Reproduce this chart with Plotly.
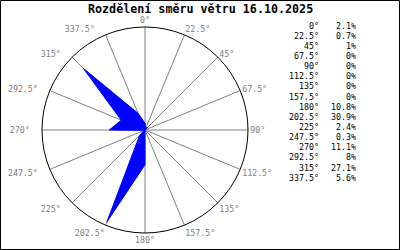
import plotly.graph_objects as go

directions = [0, 22.5, 45, 67.5, 90, 112.5, 135, 157.5, 180, 202.5, 225, 247.5, 270, 292.5, 315, 337.5]
dir_labels = ["0°", "22.5°", "45°", "67.5°", "90°", "112.5°", "135°", "157.5°",
              "180°", "202.5°", "225°", "247.5°", "270°", "292.5°", "315°", "337.5°"]
percents = [2.1, 0.7, 1, 0, 0, 0, 0, 0, 10.8, 30.9, 2.4, 0.3, 11.1, 8, 27.1, 5.6]
title_text = "Rozdělení směru větru 16.10.2025"

W, H = 400, 250
MONO = "DejaVu Sans Mono, Liberation Mono, monospace"

# left-side angle labels sit a little further out in the reference
tick_text = [lab + ("\u00a0\u00a0" if 210 < d < 360 else "") for d, lab in zip(directions, dir_labels)]

fig = go.Figure()
fig.add_trace(go.Scatterpolar(
    r=percents + [percents[0]],
    theta=directions + [directions[0]],
    mode="lines",
    fill="toself",
    fillcolor="#0000ff",
    line=dict(color="#0000ff", width=1),
    hoverinfo="skip",
))

cx, cy, R = 145, 130, 103
fig.update_layout(
    width=W, height=H,
    margin=dict(l=0, r=0, t=0, b=0),
    paper_bgcolor="white",
    plot_bgcolor="white",
    showlegend=False,
    font=dict(family=MONO, size=8.3, color="#000000"),
    polar=dict(
        domain=dict(x=[(cx - R) / W, (cx + R) / W], y=[1 - (cy + R) / H, 1 - (cy - R) / H]),
        bgcolor="white",
        angularaxis=dict(
            rotation=90, direction="clockwise",
            tickmode="array", tickvals=directions, ticktext=tick_text,
            showgrid=True, gridcolor="#808080", gridwidth=1,
            showline=True, linecolor="#000000", linewidth=1,
            ticks="", tickfont=dict(family=MONO, size=8.3, color="#808080"),
        ),
        radialaxis=dict(
            range=[0, 32], visible=True, showgrid=False, showline=False,
            showticklabels=False, ticks="",
        ),
    ),
)

# Title
fig.add_annotation(
    text="<b>" + title_text + "</b>", x=200 / W, y=1 - 9 / H,
    xref="paper", yref="paper", xanchor="center", yanchor="middle",
    showarrow=False, font=dict(family=MONO, size=11.7, color="#000000"),
)

# Side table
for i, (lab, p) in enumerate(zip(dir_labels, percents)):
    yy = 1 - (25.7 + i * 10.13) / H
    fig.add_annotation(text=lab, x=321 / W, y=yy, xref="paper", yref="paper",
                       xanchor="right", yanchor="middle", showarrow=False,
                       font=dict(family=MONO, size=8.3, color="#000000"))
    fig.add_annotation(text=f"{p:g}%", x=358 / W, y=yy, xref="paper", yref="paper",
                       xanchor="right", yanchor="middle", showarrow=False,
                       font=dict(family=MONO, size=8.3, color="#000000"))

# Border
fig.add_shape(type="rect", xref="paper", yref="paper",
              x0=0.5 / W, x1=1 - 0.5 / W, y0=0.5 / H, y1=1 - 0.5 / H,
              line=dict(color="#000000", width=1), fillcolor="rgba(0,0,0,0)")

fig.write_html("out.html")
